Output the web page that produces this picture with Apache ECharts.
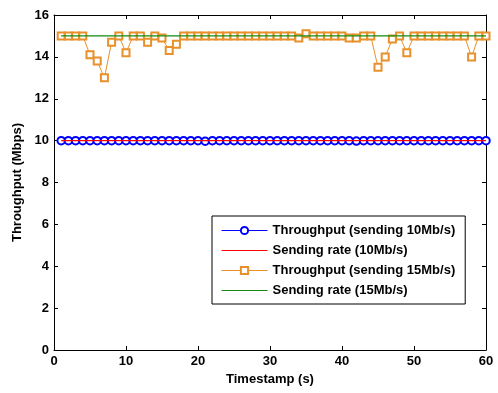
<!DOCTYPE html>
<html><head><meta charset="utf-8">
<script src="https://cdn.jsdelivr.net/npm/echarts@6/dist/echarts.min.js"></script>
<style>html,body{margin:0;padding:0;background:#fff}#c{width:498px;height:393px}</style>
</head><body><div id="c"></div>
<script>
const timestamps = Array.from({length:60},(_, i)=>i+1);
const thr10 = [10,10,10,10,10,10,10,10,10,10,10,10,10,10,10,10,10,10,10,10,9.97,10,10,10,10,10,10,10,10,10,10,10,10,10,10,10,10,10,10,10,10,9.98,10,10,10,10,10,10,10,10,10,10,10,10,10,10,10,10,10,10];
const send10 = timestamps.map(()=>10);
const thr15 = [15,15,15,15,14.1,13.8,13.0,14.7,15,14.2,15,15,14.7,15,14.9,14.3,14.6,15,15,15,15,15,15,15,15,15,15,15,15,15,15,15,15,14.9,15.1,15,15,15,15,15,14.9,14.9,15,15,13.5,14.0,14.85,15,14.2,15,15,15,15,15,15,15,15,14.0,15,15];
const send15 = timestamps.map(()=>15);
const xTicks = [0,10,20,30,40,50,60];
const yTicks = [0,2,4,6,8,10,12,14,16];
const names = ['Throughput (sending 10Mb/s)','Sending rate (10Mb/s)','Throughput (sending 15Mb/s)','Sending rate (15Mb/s)'];

const pair = (ys)=>timestamps.map((x,i)=>[x,ys[i]]);
const font = {fontFamily:'Liberation Sans', fontWeight:'bold', fontSize:13, color:'#000'};
const axLine = {show:true, onZero:false, lineStyle:{color:'#000', width:1}};
const tick = {show:true, inside:true, length:4, lineStyle:{color:'#000'}};
const hidden = {color:'rgba(0,0,0,0)', borderColor:'rgba(0,0,0,0)', borderWidth:0};

const chart = echarts.init(document.getElementById('c'), null, {renderer:'canvas'});
chart.setOption({
  animation:false,
  backgroundColor:'#fff',
  grid:{left:54, right:12, top:15, bottom:43},
  xAxis:[{type:'value', min:0, max:60, interval:10, position:'bottom',
    axisLine:axLine, axisTick:tick, splitLine:{show:false},
    axisLabel:Object.assign({margin:5}, font),
    name:'Timestamp (s)', nameLocation:'middle', nameGap:23, nameTextStyle:font},
   {type:'value', min:0, max:60, interval:10, position:'top',
    axisLine:axLine, axisTick:tick, splitLine:{show:false}, axisLabel:{show:false}}],
  yAxis:[{type:'value', min:0, max:16, interval:2, position:'left',
    axisLine:axLine, axisTick:tick, splitLine:{show:false},
    axisLabel:Object.assign({margin:5}, font),
    name:'Throughput (Mbps)', nameLocation:'middle', nameGap:27, nameTextStyle:font},
   {type:'value', min:0, max:16, interval:2, position:'right',
    axisLine:axLine, axisTick:tick, splitLine:{show:false}, axisLabel:{show:false}}],
  legend:{orient:'vertical', left:212, top:216,
    backgroundColor:'#fff', borderColor:'#000', borderWidth:1,
    padding:[8,10,7,9], itemGap:7, itemWidth:46, itemHeight:9,
    lineStyle:{width:1},
    textStyle:Object.assign({}, font),
    data:[{name:names[0]},
          {name:names[1], itemStyle:hidden},
          {name:names[2]},
          {name:names[3], itemStyle:hidden}]},
  series:[
    {name:names[0], type:'line', data:pair(thr10), symbol:'emptyCircle', symbolSize:7.5,
     lineStyle:{color:'#0000ff', width:1}, itemStyle:{color:'#0000ff', borderWidth:1}, z:2},
    {name:names[1], type:'line', data:pair(send10), symbol:'none',
     lineStyle:{color:'#ff0000', width:1.2}, itemStyle:{color:'#ff0000'}, z:3},
    {name:names[2], type:'line', data:pair(thr15), symbol:'emptyRect', symbolSize:7,
     lineStyle:{color:'#e8902a', width:1}, itemStyle:{color:'#e8902a', borderWidth:1}, z:4},
    {name:names[3], type:'line', data:pair(send15), symbol:'none',
     lineStyle:{color:'#138a13', width:1.2}, itemStyle:{color:'#138a13'}, z:5}
  ]
});
</script></body></html>
